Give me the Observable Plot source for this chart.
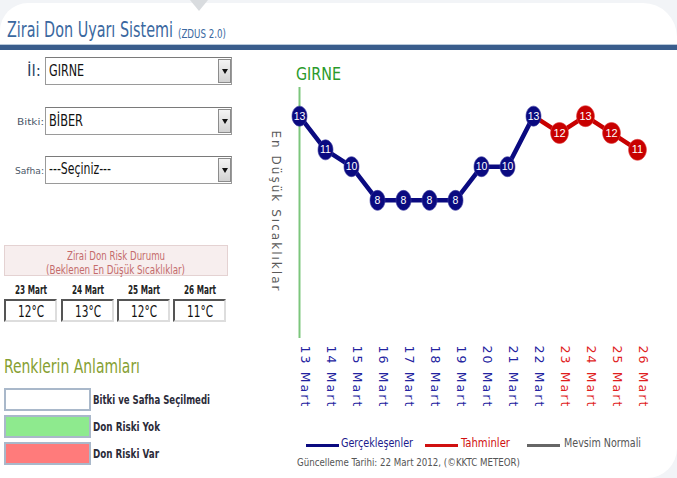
<!DOCTYPE html>
<html><head><meta charset="utf-8">
<script src="https://cdn.jsdelivr.net/npm/d3@7"></script>
<script src="https://cdn.jsdelivr.net/npm/@observablehq/plot@0.6"></script>
<style>
html,body{margin:0;padding:0;width:677px;height:478px;overflow:hidden;background:#f2f4f7;}
#page{position:absolute;left:0;top:3px;width:677px;height:475px;background:#fff;border-radius:28px 34px 30px 0;}
.t{position:absolute;white-space:nowrap;transform-origin:0 50%;font-family:"DejaVu Sans Condensed","DejaVu Sans",sans-serif;}
.box{position:absolute;box-sizing:border-box;}
#chart{position:absolute;left:260px;top:55px;}
</style></head>
<body>
<div id="page"></div>
<div id="root"></div>
<script>
// ---- data ----
const dates = ["13 Mart","14 Mart","15 Mart","16 Mart","17 Mart","18 Mart","19 Mart","20 Mart","21 Mart","22 Mart","23 Mart","24 Mart","25 Mart","26 Mart"];
const observed = [13,11,10,8,8,8,8,10,10,13];   // 13–22 Mart (Gerçekleşenler)
const forecast = [12,13,12,11];                 // 23–26 Mart (Tahminler)
const city = "GIRNE";
const crop = "BİBER";
const stage = "---Seçiniz---";
const yTitle = "En Düşük Sıcaklıklar";
const seriesNames = ["Gerçekleşenler","Tahminler","Mevsim Normali"];
const colorMeanings = ["Bitki ve Safha Seçilmedi","Don Riski Yok","Don Riski Var"];
const pageTitle = "Zirai Don Uyarı Sistemi";
const pageSub = "(ZDUS 2.0)";
const riskTitle = ["Zirai Don Risk Durumu","(Beklenen En Düşük Sıcaklıklar)"];
const caption = "Güncelleme Tarihi: 22 Mart 2012, (©KKTC METEOR)";

const root = document.getElementById("root");
function box(x,y,w,h,css){const d=document.createElement("div");d.className="box";Object.assign(d.style,{left:x+"px",top:y+"px",width:w+"px",height:h+"px"},css||{});root.appendChild(d);return d;}
const fits=[];
function txt(s,x,cy,w,size,color,weight,family){
  const e=document.createElement("span");e.className="t";e.textContent=s;
  Object.assign(e.style,{left:x+"px",top:(cy-size*0.6)+"px",fontSize:size+"px",lineHeight:(size*1.2)+"px",color:color,fontWeight:weight||"normal"});
  if(family) e.style.fontFamily=family;
  root.appendChild(e);fits.push([e,w]);return e;
}
function fitAll(){for(const [e,w] of fits){const cw=e.getBoundingClientRect().width;if(w&&cw>0)e.style.transform=`scaleX(${w/cw})`;}}

// top decoration
box(190,0,0,0,{borderLeft:"9px solid transparent",borderRight:"9px solid transparent",borderTop:"11px solid #d9dcdf"});
// header
txt(pageTitle,7,30.5,166,21,"#3a68a0");
txt(pageSub,178,34.8,48,11.5,"#3a68a0");
box(0,44,677,1,{background:"#b9c9da"});
box(0,45,677,5,{background:"#3a5d8c"});

// selects
function select(y,h,val,valW,cy){
  box(45,y,187,h,{border:"1px solid #9a9a9a",borderTopColor:"#7a7a7a",background:"#fff"});
  box(218,y+2,13,h-4,{border:"1px solid #8c8c8c",background:"linear-gradient(#f4f4f4,#d2d2d2)"});
  box(221.5,y+h/2-2,0,0,{borderLeft:"3px solid transparent",borderRight:"3px solid transparent",borderTop:"5px solid #111"});
  txt(val,49,cy,valW,15,"#111","normal");
}
select(57,28,city,35,70.5);
select(107,28,crop,34,120.5);
select(156,28,stage,62,168.5);
txt("İl:",27,71,14,15,"#2b4565");
txt("Bitki:",17,122,27,9.5,"#4b5868");
txt("Safha:",15,171,29,9.5,"#4b5868");

// risk box
box(4,245,224,31,{background:"#f7eeee",border:"1px solid #e4d2d2"});
txt(riskTitle[0],67,255,98,12.5,"#c46b6b");
txt(riskTitle[1],46,269,139,12.5,"#c46b6b");
const riskDays = dates.slice(observed.length);
const boxX=[4,61,117,173];
riskDays.forEach((d,i)=>{
  const cx=boxX[i]+26.5;
  txt(d,cx-16,290,32,12,"#222","bold");
  box(boxX[i],299,53,23,{border:"2px solid #ddd",borderTopColor:"#555",borderLeftColor:"#555",background:"#fff"});
  txt(forecast[i]+"°C",cx-13,311.5,26,16,"#111","normal");
});

// colour legend
txt("Renklerin Anlamları",4,366,136,20,"#86a032");
const legFill=["#ffffff","#8eea8e","#ff7b7b"];
const legY=[388,415,442];
colorMeanings.forEach((s,i)=>{
  box(4,legY[i],87,23,{background:legFill[i],border:"2px solid #a9b8ca"});
  txt(s,93,legY[i]+12.5,[117,67,66][i],12,"#2c2c3a","bold");
});

// chart
txt(city,296,74.5,45,17.5,"#2a9a2a");

const obsData = observed.map((v,i)=>({date:dates[i],v}));
const fcData = forecast.map((v,i)=>({date:dates[observed.length+i],v}));
const fcLine = [obsData[obsData.length-1],...fcData];
const navy="#0a0a80", red="#c80000";
function ellipse(kx){return {draw(ctx,size){const r=Math.sqrt(size/Math.PI),rx=r*kx,ry=r,k=0.5523;
  ctx.moveTo(rx,0);ctx.bezierCurveTo(rx,ry*k,rx*k,ry,0,ry);ctx.bezierCurveTo(-rx*k,ry,-rx,ry*k,-rx,0);
  ctx.bezierCurveTo(-rx,-ry*k,-rx*k,-ry,0,-ry);ctx.bezierCurveTo(rx*k,-ry,rx,-ry*k,rx,0);ctx.closePath();}};}

const chart = Plot.plot({
  width:417,height:360,marginLeft:36,marginRight:37,marginTop:32,marginBottom:77,
  style:{background:"transparent",overflow:"visible"},
  x:{type:"point",domain:dates,padding:0,axis:null},
  y:{domain:[-0.2,14.7],axis:null},
  color:{type:"identity"},
  marks:[
    Plot.ruleX([dates[0]],{stroke:"#7cc67c",strokeWidth:2}),
    Plot.line(fcLine,{x:"date",y:"v",stroke:red,strokeWidth:4.5}),
    Plot.line(obsData,{x:"date",y:"v",stroke:navy,strokeWidth:4.5}),
    Plot.dot(obsData,{x:"date",y:"v",r:10,symbol:ellipse(0.75),fill:navy,stroke:"#3a3aa0",strokeWidth:0.6}),
    Plot.dot(fcData,{x:"date",y:"v",r:10.5,symbol:ellipse(0.85),fill:red,stroke:"#e04040",strokeWidth:0.6}),
    Plot.text(obsData,{x:"date",y:"v",text:d=>String(d.v),fill:"white",fontSize:10.5,fontFamily:"Liberation Sans, Arial, sans-serif"}),
    Plot.text(fcData,{x:"date",y:"v",text:d=>String(d.v),fill:"white",fontSize:11,fontFamily:"Liberation Sans, Arial, sans-serif"}),
    Plot.text(dates,{x:d=>d,frameAnchor:"bottom",dy:7,dx:1.5,rotate:90,textAnchor:"start",fontSize:12.5,fontFamily:"DejaVu Sans, sans-serif",
      fill:(d,i)=>i<observed.length?"#2323a0":"#e01e1e"}),
    Plot.text([yTitle],{frameAnchor:"left",dx:-21,dy:-82.5,rotate:90,textAnchor:"start",fill:"#5a5a5a",fontSize:12,fontFamily:"DejaVu Sans, sans-serif"})
  ]
});
chart.id="chart";
root.appendChild(chart);
const dateSet=new Set(dates);
d3.select(chart).selectAll("text").each(function(){
  const s=this.textContent;
  if(dateSet.has(s)) this.setAttribute("textLength",61);
  else if(s===yTitle) this.setAttribute("textLength",160);
});

// series legend + caption
const legCol=[navy,"#d01010","#666"], legTxtCol=["#1a1a8c","#d01010","#555"];
const lineX=[306,425,527], txtX=[341,461,564], txtW=[72,49,77];
seriesNames.forEach((s,i)=>{
  box(lineX[i],443.5,33,3,{background:legCol[i]});
  txt(s,txtX[i],443,txtW[i],13,legTxtCol[i]);
});
txt(caption,297,463,223,11,"#555");
fitAll();
</script>
</body></html>
